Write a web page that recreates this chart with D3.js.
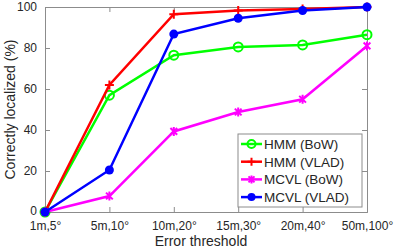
<!DOCTYPE html>
<html>
<head>
<meta charset="utf-8">
<script src="https://cdn.jsdelivr.net/npm/d3@7"></script>
<style>
  body { margin: 0; background: #fff; }
  text { font-family: "Liberation Sans", Arial, sans-serif; fill: #262626; }
</style>
</head>
<body>
<div id="chart"></div>
<script>
// data
const categories = ["1m,5°", "5m,10°", "10m,20°", "15m,30°", "20m,40°", "50m,100°"];
const yTicks = [0, 20, 40, 60, 80, 100];
const hmmBow = [0, 57, 76.5, 80.5, 81.5, 86.5];
const hmmVlad = [0, 62, 96.5, 98.3, 99, 100];
const mcvlBow = [0, 7.8, 39.3, 48.8, 55, 81];
const mcvlVlad = [0, 20.5, 86.8, 94.5, 98.3, 100];

const series = [
    {name: "HMM (BoW)", values: hmmBow, color: "#00ff00", marker: "ocircle"},
    {name: "HMM (VLAD)", values: hmmVlad, color: "#ff0000", marker: "plus"},
    {name: "MCVL (BoW)", values: mcvlBow, color: "#ff00ff", marker: "star"},
    {name: "MCVL (VLAD)", values: mcvlVlad, color: "#0000ff", marker: "dot"}
];

const W = 399, H = 248;
const margin = {top: 7, right: 32, bottom: 36, left: 45};
const width = W - margin.left - margin.right;
const height = H - margin.top - margin.bottom;

const svg = d3.select("#chart").append("svg")
    .attr("width", W)
    .attr("height", H)
    .append("g")
    .attr("transform", "translate(" + margin.left + "," + margin.top + ")");

const x = d3.scalePoint().domain(categories).range([0, width]).padding(0);
const y = d3.scaleLinear().domain([0, 100]).range([height, 0]);

// axes (matlab-like box, ticks inward)
const axisColor = "#8c8c8c";
const xAxis = svg.append("g").attr("transform", "translate(0," + height + ")")
    .call(d3.axisBottom(x).tickSize(-5).tickPadding(9));
const xTop = svg.append("g").call(d3.axisTop(x).tickSize(-5).tickFormat(""));
const yAxis = svg.append("g").call(d3.axisLeft(y).tickValues(yTicks).tickSize(-5).tickPadding(8));
const yRight = svg.append("g").attr("transform", "translate(" + width + ",0)")
    .call(d3.axisRight(y).tickValues(yTicks).tickSize(-5).tickFormat(""));

[xAxis, xTop, yAxis, yRight].forEach(g => {
    g.selectAll("path, line").attr("stroke", axisColor);
    g.selectAll("text").style("font-size", "12px").attr("fill", "#262626")
        .style("font-family", "Liberation Sans, Arial, sans-serif");
});
// nudge the 0 label up a touch so it clears the first x label
yAxis.selectAll(".tick text").filter(d => d === 0).attr("dy", "0.2em");

// lines
const line = d3.line()
    .x((d, i) => x(categories[i]))
    .y(d => y(d));

function drawMarker(g, type, color, size) {
    if (type === "ocircle") {
        g.append("circle").attr("r", size).attr("fill", "none")
            .attr("stroke", color).attr("stroke-width", 2);
    } else if (type === "dot") {
        g.append("circle").attr("r", size).attr("fill", color);
    } else if (type === "plus") {
        g.append("path").attr("d", "M" + (-size) + ",0H" + size + "M0," + (-size) + "V" + size)
            .attr("stroke", color).attr("stroke-width", 2);
    } else if (type === "star") {
        const s = size * 0.75;
        g.append("path").attr("d", "M" + (-s) + "," + (-s) + "L" + s + "," + s + "M" + (-s) + "," + s + "L" + s + "," + (-s) + "M0," + (-size) + "V" + size)
            .attr("stroke", color).attr("stroke-width", 2);
    }
}

series.forEach(s => {
    svg.append("path")
        .datum(s.values)
        .attr("fill", "none")
        .attr("stroke", s.color)
        .attr("stroke-width", 2.5)
        .attr("d", line);
    s.values.forEach((v, i) => {
        const g = svg.append("g").attr("transform", "translate(" + x(categories[i]) + "," + y(v) + ")");
        drawMarker(g, s.marker, s.color, 4.5);
    });
});

// axis labels
svg.append("text")
    .attr("x", width / 2 - 5)
    .attr("y", height + 34)
    .attr("text-anchor", "middle")
    .style("font-size", "14px")
    .text("Error threshold");

svg.append("text")
    .attr("transform", "translate(-30," + (height / 2) + ") rotate(-90)")
    .attr("text-anchor", "middle")
    .style("font-size", "14px")
    .text("Correctly localized (%)");

// legend
const legend = svg.append("g").attr("transform", "translate(" + (238 - margin.left) + "," + (134 - margin.top) + ")");
legend.append("rect")
    .attr("width", 124).attr("height", 73)
    .attr("fill", "#fff").attr("stroke", axisColor).attr("stroke-width", 1);

series.forEach((s, i) => {
    const row = legend.append("g").attr("transform", "translate(0," + (10 + i * 17.7) + ")");
    row.append("line").attr("x1", 3).attr("x2", 24).attr("y1", 0).attr("y2", 0)
        .attr("stroke", s.color).attr("stroke-width", 2.5);
    const m = row.append("g").attr("transform", "translate(13.5,0)");
    drawMarker(m, s.marker, s.color, 4);
    row.append("text").attr("x", 26).attr("y", 5)
        .style("font-size", "13.5px")
        .text(s.name);
});
</script>
</body>
</html>
